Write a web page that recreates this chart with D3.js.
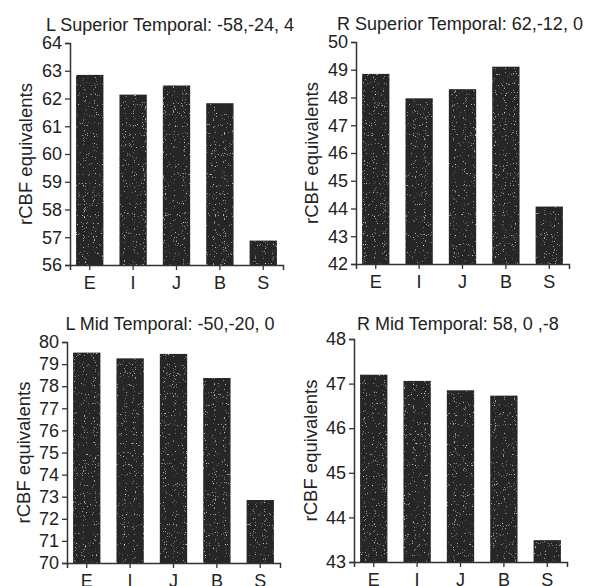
<!DOCTYPE html>
<html>
<head>
<meta charset="utf-8">
<script src="https://cdn.jsdelivr.net/npm/d3@7"></script>
<style>
  body { margin: 0; background: #fff; }
  text { font-family: "Liberation Sans", Arial, sans-serif; fill: #222; }
</style>
</head>
<body>
<svg id="chart" width="589" height="586"></svg>
<script>
// Data
const categories = ["E", "I", "J", "B", "S"];

const lSupTemporal = [62.85, 62.14, 62.47, 61.83, 56.88];
const rSupTemporal = [48.85, 47.97, 48.30, 49.11, 44.07];
const lMidTemporal = [79.52, 79.26, 79.46, 78.37, 72.85];
const rMidTemporal = [47.20, 47.06, 46.85, 46.73, 43.49];

const titles = [
    "L Superior Temporal: -58,-24, 4",
    "R Superior Temporal: 62,-12, 0",
    "L Mid Temporal: -50,-20, 0",
    "R Mid Temporal: 58, 0 ,-8"
];
const yDomains = [[56, 64], [42, 50], [70, 80], [43, 48]];
const yLabel = "rCBF equivalents";

const svg = d3.select("#chart");
svg.append("rect").attr("width", 589).attr("height", 586).attr("fill", "#fff");

// speckled bar fill, like the printed figure
const defs = svg.append("defs");
const f = defs.append("filter").attr("id", "speckle")
    .attr("x", 0).attr("y", 0).attr("width", 1).attr("height", 1);
f.append("feTurbulence").attr("type", "fractalNoise").attr("baseFrequency", 0.9)
    .attr("numOctaves", 1).attr("seed", 4).attr("result", "noise");
f.append("feColorMatrix").attr("in", "noise").attr("type", "matrix")
    .attr("values", "0 0 0 0 1  0 0 0 0 1  0 0 0 0 1  5 0 0 0 -3.3").attr("result", "dots");
f.append("feComposite").attr("in", "dots").attr("in2", "SourceGraphic")
    .attr("operator", "in").attr("result", "dotsIn");
const merge = f.append("feMerge");
merge.append("feMergeNode").attr("in", "SourceGraphic");
merge.append("feMergeNode").attr("in", "dotsIn");

// panel layout: axis origin and extents
const panels = [
    { values: lSupTemporal, x0: 70, top: 43, bottom: 265, labelX: 25, titleX: 170, titleY: 31 },
    { values: rSupTemporal, x0: 356, top: 42, bottom: 264, labelX: 311, titleX: 460, titleY: 30 },
    { values: lMidTemporal, x0: 67, top: 342, bottom: 563, labelX: 23, titleX: 170, titleY: 330 },
    { values: rMidTemporal, x0: 354, top: 339, bottom: 562, labelX: 310, titleX: 458, titleY: 330 }
];

panels.forEach((p, i) => {
    const g = svg.append("g");

    const x = d3.scaleBand()
        .domain(categories)
        .range([p.x0, p.x0 + 213])
        .paddingInner(0.37)
        .paddingOuter(0.14);

    const y = d3.scaleLinear()
        .domain(yDomains[i])
        .range([p.bottom, p.top]);

    const [lo, hi] = yDomains[i];

    // Bars
    g.append("g")
        .selectAll("rect")
        .data(p.values)
        .enter().append("rect")
        .attr("x", (d, j) => x(categories[j]))
        .attr("y", d => y(d))
        .attr("width", x.bandwidth())
        .attr("height", d => y(lo) - y(d))
        .attr("fill", "#262626")
        .attr("filter", "url(#speckle)");

    // Y axis
    const yAxis = g.append("g")
        .attr("transform", `translate(${p.x0},0)`)
        .call(d3.axisLeft(y).tickValues(d3.range(lo, hi + 1)).tickFormat(d3.format("d"))
            .tickSizeOuter(0).tickSize(5).tickPadding(3));

    // X axis
    const xAxis = g.append("g")
        .attr("transform", `translate(0,${p.bottom})`)
        .call(d3.axisBottom(x).tickSizeOuter(0).tickSize(5).tickPadding(6));

    [yAxis, xAxis].forEach(a => {
        a.select(".domain").attr("stroke", "#333").attr("stroke-width", 1.5);
        a.selectAll(".tick line").attr("stroke", "#333").attr("stroke-width", 1.3);
        a.selectAll("text").style("font-size", "18px").attr("fill", "#222");
    });

    // Y label
    g.append("text")
        .attr("transform", `translate(${p.labelX},${(p.top + p.bottom) / 2}) rotate(-90)`)
        .attr("text-anchor", "middle")
        .attr("dominant-baseline", "central")
        .style("font-size", "18.5px")
        .text(yLabel);

    // Title
    g.append("text")
        .attr("x", p.titleX)
        .attr("y", p.titleY)
        .attr("text-anchor", "middle")
        .style("font-size", "18px")
        .text(titles[i]);
});
</script>
</body>
</html>
